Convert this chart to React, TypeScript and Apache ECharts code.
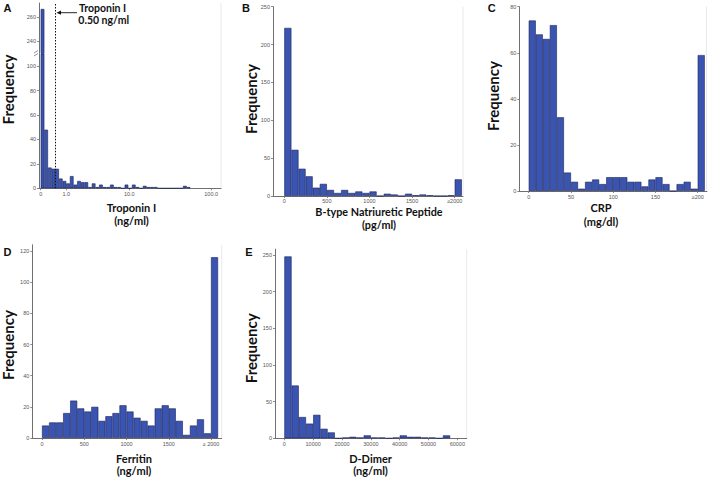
import React, { useEffect, useRef } from 'react';
import * as echarts from 'echarts';

// ---------- DATA ----------
// A: Troponin I (bins on a log10(1+x) scale)
const troponinCounts = [267, 48, 17, 16, 16, 8, 6, 4, 10, 3, 6, 5, 5, 1, 4, 1, 3, 1, 1, 3, 1, 1, 0, 3, 0, 3, 1, 0, 2, 1, 1, 1, 0, 0, 0, 0, 0, 0, 0, 2, 1];
const troponinTickValues = [0, 1, 10, 100];
const troponinTickLabels = ['0', '1.0', '10.0', '100.0'];
const troponinCutoff = 0.5;
const troponinBinsPerDecade = 23.3;

// B: BNP
const bnpCounts = [222, 61, 36, 26, 11, 16, 8, 4, 8, 4, 6, 4, 6, 0, 3, 2, 0, 3, 1, 2, 1, 0, 0, 1, 22];
const bnpTickBins = [0, 6, 12, 18, 24];
const bnpTickLabels = ['0', '500', '1000', '1500', '≥2000'];

// C: CRP
const crpCounts = [74, 68, 66, 72, 32, 8, 4, 1, 4, 5, 3, 6, 6, 6, 4, 4, 2, 5, 6, 3, 0, 3, 4, 1, 59];
const crpTickBins = [0, 6, 12, 18, 24];
const crpTickLabels = ['0', '50', '100', '150', '≥200'];

// D: Ferritin
const ferritinCounts = [8, 10, 10, 16, 24, 19, 17, 20, 11, 14, 16, 21, 17, 13, 11, 8, 19, 21, 19, 11, 2, 8, 12, 3, 116];
const ferritinTickBins = [0, 6, 12, 18, 24];
const ferritinTickLabels = ['0', '500', '1000', '1500', '≥ 2000'];

// E: D-Dimer
const ddimerCounts = [248, 72, 29, 20, 32, 13, 8, 0, 1, 2, 1, 4, 1, 1, 0, 1, 4, 2, 2, 1, 1, 0, 4];
const ddimerTickBins = [0, 4, 8, 12, 16, 20, 24];
const ddimerTickLabels = ['0', '10000', '20000', '30000', '40000', '50000', '60000'];

// y tick values
const yTicksA = [0, 20, 40, 60, 80, 100];
const yTicksAUpper = [240, 260];
const yTicksB = [0, 50, 100, 150, 200, 250];
const yTicksC = [0, 20, 40, 60, 80];
const yTicksD = [0, 20, 40, 60, 80, 100, 120];
const yTicksE = [0, 50, 100, 150, 200, 250];

// ---------- STYLE ----------
const BLUE = '#3a54b2';
const EDGE = '#1c2456';
const AXIS = '#707070';
const TITLE_FONT = 'Lato, "Open Sans", sans-serif';
const LETTER_FONT = 'Liberation Sans, Arial, sans-serif';
const tickFont = { fontSize: 5.5, color: '#555', fontFamily: 'Liberation Sans, Arial, sans-serif' };

const labelAt = (v: number, pos: number[], labels: string[]) => {
  const i = pos.findIndex((p) => Math.abs(p - v) < 1e-6);
  return i >= 0 ? labels[i] : '';
};

function xAxisCfg(gridIndex: number, min: number, max: number, pos: number[], labels: string[], show = true, margin = 3) {
  return {
    type: 'value', gridIndex, min, max, show,
    axisLine: { show: true, onZero: false, lineStyle: { color: AXIS, width: 1 } },
    axisTick: { show: true, customValues: pos, length: 2, lineStyle: { color: AXIS, width: 0.8 } },
    axisLabel: { show: true, customValues: pos, formatter: (v: number) => labelAt(v, pos, labels), margin, ...tickFont },
    splitLine: { show: false },
  };
}

function yAxisCfg(gridIndex: number, min: number, max: number, ticks: number[]) {
  return {
    type: 'value', gridIndex, min, max,
    axisLine: { show: true, onZero: false, lineStyle: { color: AXIS, width: 1 } },
    axisTick: { show: true, customValues: ticks, length: 2, lineStyle: { color: AXIS, width: 0.8 } },
    axisLabel: { show: true, customValues: ticks, margin: 3, ...tickFont },
    splitLine: { show: false },
  };
}

function barSeries(counts: number[], idx: number, extra: any = {}) {
  return {
    type: 'bar', xAxisIndex: idx, yAxisIndex: idx,
    data: counts.map((c, i) => [i + 0.5, c]),
    barWidth: '100%',
    clip: true, silent: true,
    itemStyle: { color: BLUE, borderColor: EDGE, borderWidth: 0.6 },
    ...extra,
  };
}

function txt(text: string, x: number, y: number, size: number, opts: any = {}) {
  return {
    type: 'text', x, y, rotation: opts.rotation || 0, silent: true,
    style: {
      text, fill: '#111',
      font: `bold ${size}px ${opts.family || TITLE_FONT}`,
      textAlign: opts.align || 'center', align: opts.align || 'center',
      textVerticalAlign: 'middle', verticalAlign: 'middle',
    },
  };
}

function line(x1: number, y1: number, x2: number, y2: number, color: string, width = 1) {
  return { type: 'line', silent: true, shape: { x1, y1, x2, y2 }, style: { stroke: color, lineWidth: width } };
}

export default function App() {
  const ref = useRef<HTMLDivElement>(null);
  useEffect(() => {
    if (!ref.current) return;
    const chart = echarts.init(ref.current, undefined, { renderer: 'svg' });

    const tPos = troponinTickValues.map((v) => Math.log10(1 + v) * troponinBinsPerDecade);
    const cutoffPos = Math.log10(1 + troponinCutoff) * troponinBinsPerDecade;

    const grids = [
      { left: 39, top: 54, width: 182, height: 134.3 },       // A lower
      { left: 39, top: 3, width: 182, height: 50.5 },         // A upper
      { left: 273, top: 6.7, width: 190, height: 189.3 },     // B
      { left: 519.3, top: 6.7, width: 187.7, height: 184.3 }, // C
      { left: 32.3, top: 244.8, width: 189.4, height: 193.2 },// D
      { left: 275, top: 249.1, width: 191.7, height: 189.2 }, // E
    ].map((g) => ({ ...g, containLabel: false, outerBoundsMode: 'none' }));

    const markLineCfg = {
      symbol: 'none', silent: true, label: { show: false },
      lineStyle: { type: [1.5, 1.5], color: '#111', width: 1 },
      data: [{ xAxis: cutoffPos }],
    };

    const option: any = {
      animation: false,
      backgroundColor: '#fff',
      grid: grids,
      xAxis: [
        xAxisCfg(0, -0.466, 49.4, tPos, troponinTickLabels),
        xAxisCfg(1, -0.466, 49.4, tPos, troponinTickLabels, false),
        xAxisCfg(2, -1.59, 25.17, bnpTickBins, bnpTickLabels, true, 2),
        xAxisCfg(3, -1.34, 25.32, crpTickBins, crpTickLabels),
        xAxisCfg(4, -1.38, 25.52, ferritinTickBins, ferritinTickLabels),
        xAxisCfg(5, -1.3, 25.3, ddimerTickBins, ddimerTickLabels),
      ],
      yAxis: [
        yAxisCfg(0, 0, 110, yTicksA),
        yAxisCfg(1, 230, 272, yTicksAUpper),
        yAxisCfg(2, 0, 250, yTicksB),
        yAxisCfg(3, 0, 80, yTicksC),
        yAxisCfg(4, 0, 124, yTicksD),
        yAxisCfg(5, 0, 258, yTicksE),
      ],
      series: [
        barSeries(troponinCounts, 0, { markLine: markLineCfg }),
        barSeries(troponinCounts, 1, { markLine: markLineCfg }),
        barSeries(bnpCounts, 2),
        barSeries(crpCounts, 3),
        barSeries(ferritinCounts, 4),
        barSeries(ddimerCounts, 5),
      ],
      graphic: [
        // faint right frame lines
        line(221, 3, 221, 188, '#e3e3e3', 0.8),
        line(463, 6.7, 463, 196, '#e3e3e3', 0.8),
        line(706.5, 6.7, 706.5, 191, '#e3e3e3', 0.8),
        line(221.7, 244.8, 221.7, 438, '#e3e3e3', 0.8),
        line(466.7, 249.1, 466.7, 438.3, '#e3e3e3', 0.8),
        // axis break marks (A)
        line(34, 53, 38, 50.5, '#777', 0.8),
        line(34, 56, 38, 53.5, '#777', 0.8),
        // panel letters
        txt('A', 7.5, 7.5, 11, { family: LETTER_FONT }),
        txt('B', 246, 8, 11, { family: LETTER_FONT }),
        txt('C', 491.7, 7.5, 11, { family: LETTER_FONT }),
        txt('D', 7.5, 251.7, 11, { family: LETTER_FONT }),
        txt('E', 249, 251.7, 11, { family: LETTER_FONT }),
        // y titles
        txt('Frequency', 8.3, 89.5, 15, { rotation: Math.PI / 2 }),
        txt('Frequency', 250.8, 99, 15, { rotation: Math.PI / 2 }),
        txt('Frequency', 493.3, 96, 15, { rotation: Math.PI / 2 }),
        txt('Frequency', 8.3, 345, 15, { rotation: Math.PI / 2 }),
        txt('Frequency', 251.3, 348.3, 15, { rotation: Math.PI / 2 }),
        // x titles
        txt('Troponin I', 131.5, 207, 11),
        txt('(ng/ml)', 131.5, 220.5, 11),
        txt('B-type Natriuretic Peptide', 379, 211.5, 10.8),
        txt('(pg/ml)', 379, 224, 10.8),
        txt('CRP', 601, 207.5, 11),
        txt('(mg/dl)', 601, 221.5, 11),
        txt('Ferritin', 134, 458, 11),
        txt('(ng/ml)', 134, 470.5, 11),
        txt('D-Dimer', 370.5, 458, 11),
        txt('(ng/ml)', 370.5, 470.5, 11),
        // annotation
        txt('Troponin I', 79, 8.3, 10.5, { align: 'left' }),
        txt('0.50 ng/ml', 78.3, 20, 10.5, { align: 'left' }),
        line(59, 12.7, 77, 12.7, '#111', 0.9),
        { type: 'polygon', silent: true, shape: { points: [[56.5, 12.7], [61, 10.6], [61, 14.8]] }, style: { fill: '#111' } },
      ],
    };
    chart.setOption(option);
    return () => chart.dispose();
  }, []);
  return <div ref={ref} style={{ position: 'fixed', left: 0, top: 0, width: 709, height: 477, background: '#fff' }} />;
}
